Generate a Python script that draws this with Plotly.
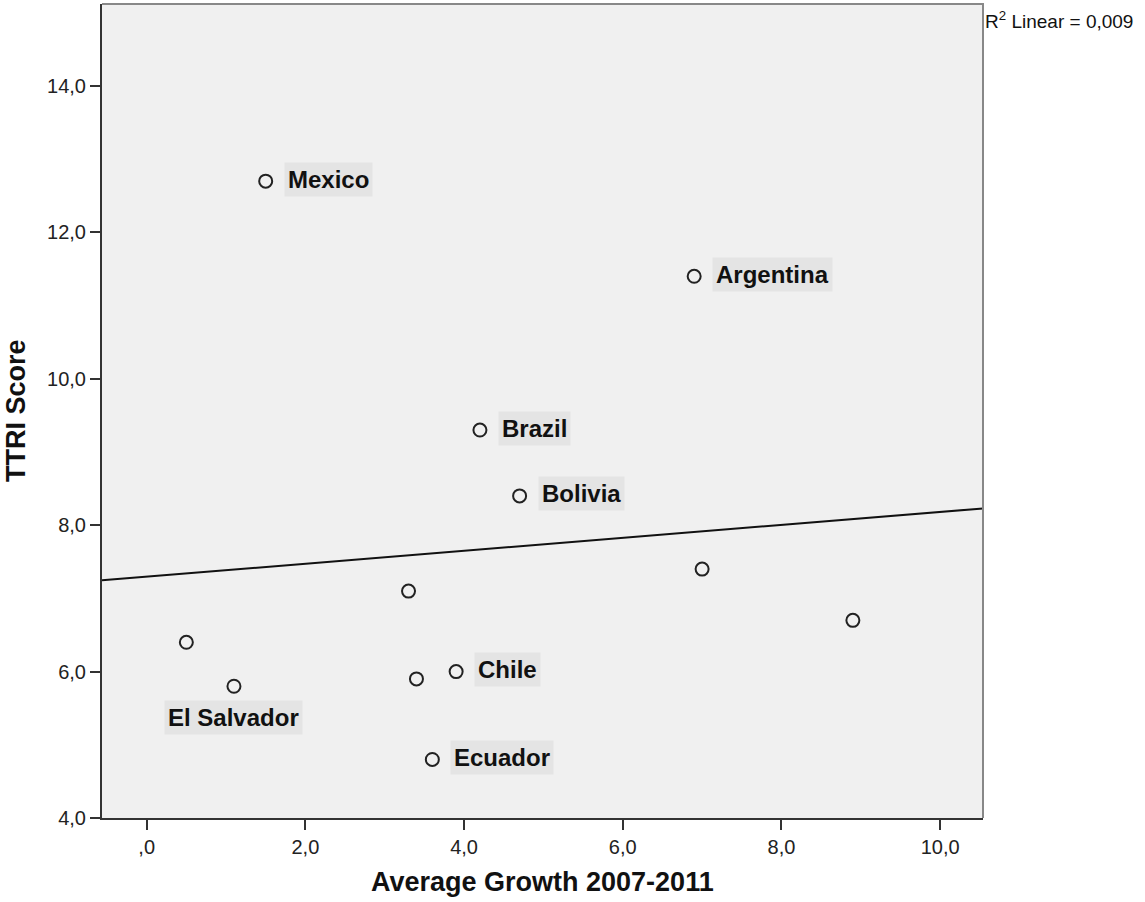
import numpy as np
import plotly.graph_objects as go

# Data
countries = ["Mexico", "Argentina", "Brazil", "Bolivia", "", "", "", "", "El Salvador", "", "Chile", "Ecuador"]
growth = [1.5, 6.9, 4.2, 4.7, 7.0, 3.3, 8.9, 0.5, 1.1, 3.4, 3.9, 3.6]
ttri = [12.7, 11.4, 9.3, 8.4, 7.4, 7.1, 6.7, 6.4, 5.8, 5.9, 6.0, 4.8]

x_ticks = [0, 2, 4, 6, 8, 10]
x_ticklabels = [",0", "2,0", "4,0", "6,0", "8,0", "10,0"]
y_ticks = [4, 6, 8, 10, 12, 14]
y_ticklabels = ["4,0", "6,0", "8,0", "10,0", "12,0", "14,0"]

x_range = [-0.563, 10.54]
y_range = [4.0, 15.12]

FONT = "Liberation Sans, Arial, sans-serif"

# Linear fit
xa = np.array(growth)
ya = np.array(ttri)
slope, intercept = np.polyfit(xa, ya, 1)
r2 = np.corrcoef(xa, ya)[0, 1] ** 2
fit_x = np.array(x_range)
fit_y = intercept + slope * fit_x

fig = go.Figure()
fig.add_trace(go.Scatter(x=fit_x, y=fit_y, mode="lines",
                         line=dict(color="#111111", width=2), hoverinfo="skip"))
fig.add_trace(go.Scatter(x=growth, y=ttri, mode="markers",
                         marker=dict(symbol="circle-open", size=13, color="#222222",
                                     line=dict(width=2, color="#222222"))))

annotations = []
for c, gx, gy in zip(countries, growth, ttri):
    if not c:
        continue
    if c == "El Salvador":
        annotations.append(dict(x=gx, y=gy, xref="x", yref="y", text="<b>%s</b>" % c,
                                showarrow=False, xanchor="center", yanchor="middle",
                                yshift=-31, bgcolor="#e4e4e4", borderpad=3,
                                font=dict(family=FONT, size=24, color="#111111")))
    else:
        annotations.append(dict(x=gx, y=gy, xref="x", yref="y", text="<b>%s</b>" % c,
                                showarrow=False, xanchor="left", yanchor="middle",
                                xshift=18, yshift=2, bgcolor="#e4e4e4", borderpad=3,
                                font=dict(family=FONT, size=24, color="#111111")))

r2_text = ("R<sup>2</sup> Linear = %.3f" % r2).replace("0.", "0,")
annotations.append(dict(x=1, y=1, xref="paper", yref="paper", text=r2_text,
                        showarrow=False, xanchor="left", yanchor="top", xshift=0, yshift=-2,
                        font=dict(family=FONT, size=19, color="#111111")))
annotations.append(dict(x=0.5, y=0, xref="paper", yref="paper",
                        text="<b>Average Growth 2007-2011</b>", showarrow=False,
                        xanchor="center", yanchor="middle", yshift=-64,
                        font=dict(family=FONT, size=27, color="#111111")))
annotations.append(dict(x=0, y=0.5, xref="paper", yref="paper",
                        text="<b>TTRI Score</b>", showarrow=False, textangle=-90,
                        xanchor="center", yanchor="middle", xshift=-86,
                        font=dict(family=FONT, size=27, color="#111111")))

fig.update_layout(
    width=1145, height=902,
    margin=dict(l=102, r=162, t=4, b=84),
    paper_bgcolor="white", plot_bgcolor="#f0f0f0",
    showlegend=False,
    annotations=annotations,
    shapes=[dict(type="path", xref="paper", yref="paper",
                 path="M 0 1 L 1 1 L 1 0", line=dict(color="#888888", width=2))],
    xaxis=dict(range=x_range, tickvals=x_ticks, ticktext=x_ticklabels,
               showgrid=False, zeroline=False, showline=True, linecolor="#333333",
               linewidth=2, ticks="outside", ticklen=10, tickwidth=2, tickcolor="#333333",
               tickfont=dict(family=FONT, size=20, color="#222222")),
    yaxis=dict(range=y_range, tickvals=y_ticks, ticktext=y_ticklabels,
               showgrid=False, zeroline=False, showline=True, linecolor="#333333",
               linewidth=2, ticks="outside", ticklen=10, tickwidth=2, tickcolor="#333333",
               tickfont=dict(family=FONT, size=20, color="#222222")),
)

fig.write_html("out.html", config={"displayModeBar": False},
               post_script="document.body.style.margin='0';")
